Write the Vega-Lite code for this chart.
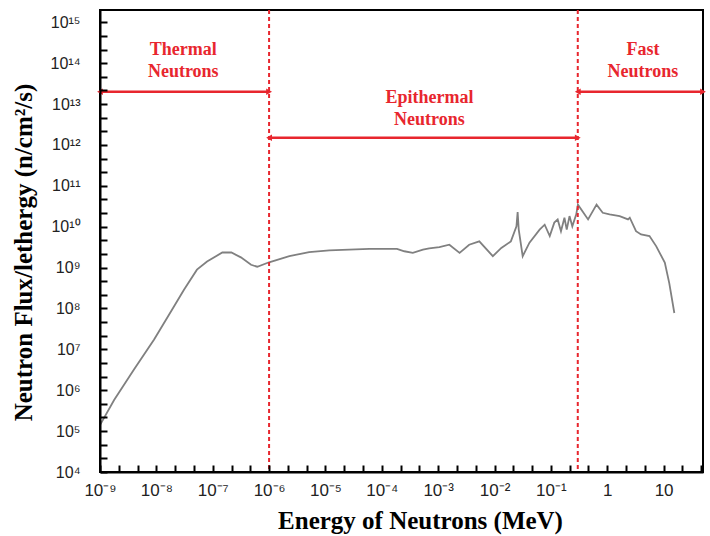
{
  "$schema": "https://vega.github.io/schema/vega-lite/v6.json",
  "width": 603,
  "height": 462,
  "autosize": "none",
  "padding": {"left": 100, "top": 10, "right": 7, "bottom": 64},
  "background": "white",
  "config": {
    "view": {"stroke": "black", "strokeWidth": 2}
  },
  "datasets": {
    "flux": [
      {"E": 1e-9, "F": 1.4e5}, {"E": 1.78e-9, "F": 5.75e5}, {"E": 3.98e-9, "F": 3.16e6},
      {"E": 9.12e-9, "F": 1.74e7}, {"E": 2.04e-8, "F": 1.1e8}, {"E": 3.09e-8, "F": 2.88e8},
      {"E": 5.25e-8, "F": 8.9e8}, {"E": 7.94e-8, "F": 1.41e9}, {"E": 1.48e-7, "F": 2.34e9},
      {"E": 2.14e-7, "F": 2.34e9}, {"E": 3.16e-7, "F": 1.78e9}, {"E": 4.79e-7, "F": 1.17e9},
      {"E": 6.17e-7, "F": 1.05e9}, {"E": 1e-6, "F": 1.35e9}, {"E": 2.29e-6, "F": 1.9e9},
      {"E": 5.13e-6, "F": 2.4e9}, {"E": 1.17e-5, "F": 2.63e9}, {"E": 2.63e-5, "F": 2.75e9},
      {"E": 6.03e-5, "F": 2.88e9}, {"E": 1.86e-4, "F": 2.88e9}, {"E": 2.51e-4, "F": 2.51e9},
      {"E": 3.55e-4, "F": 2.29e9}, {"E": 5.37e-4, "F": 2.75e9}, {"E": 6.92e-4, "F": 2.95e9},
      {"E": 1.05e-3, "F": 3.16e9}, {"E": 1.58e-3, "F": 3.63e9}, {"E": 2.4e-3, "F": 2.29e9},
      {"E": 3.55e-3, "F": 3.63e9}, {"E": 5.37e-3, "F": 4.37e9}, {"E": 9.33e-3, "F": 1.9e9},
      {"E": 1.32e-2, "F": 3.02e9}, {"E": 1.95e-2, "F": 4.37e9}, {"E": 2.45e-2, "F": 1.02e10},
      {"E": 2.57e-2, "F": 2.29e10}, {"E": 2.69e-2, "F": 8.5e9}, {"E": 3.16e-2, "F": 1.9e9},
      {"E": 4.17e-2, "F": 4.07e9}, {"E": 6.31e-2, "F": 8.5e9}, {"E": 7.76e-2, "F": 1.12e10},
      {"E": 9.55e-2, "F": 5.89e9}, {"E": 0.115, "F": 1.26e10}, {"E": 0.132, "F": 1.51e10},
      {"E": 0.151, "F": 7.76e9}, {"E": 0.174, "F": 1.66e10}, {"E": 0.191, "F": 8.5e9},
      {"E": 0.214, "F": 1.82e10}, {"E": 0.24, "F": 1.02e10}, {"E": 0.282, "F": 2.0e10},
      {"E": 0.302, "F": 3.47e10}, {"E": 0.457, "F": 1.51e10}, {"E": 0.646, "F": 3.47e10},
      {"E": 0.832, "F": 2.19e10}, {"E": 1.1, "F": 2.0e10}, {"E": 1.66, "F": 1.82e10},
      {"E": 2.34, "F": 1.51e10}, {"E": 2.51, "F": 1.66e10}, {"E": 3.24, "F": 7.76e9},
      {"E": 3.98, "F": 6.46e9}, {"E": 5.62, "F": 5.89e9}, {"E": 7.41, "F": 3.31e9},
      {"E": 10.5, "F": 1.32e9}, {"E": 12.6, "F": 4.17e8}, {"E": 15.5, "F": 7.76e7}
    ],
    "bounds": [{"E": 1e-6}, {"E": 0.3}],
    "arrows": [
      {"E": 1e-9, "E2": 1e-6, "F": 2e13},
      {"E": 1e-6, "E2": 0.3, "F": 1.5e12},
      {"E": 0.3, "E2": 50, "F": 2e13}
    ],
    "heads": [
      {"E": 1e-9, "F": 2e13, "dir": "left"}, {"E": 1e-6, "F": 2e13, "dir": "right"},
      {"E": 1e-6, "F": 1.5e12, "dir": "left"}, {"E": 0.3, "F": 1.5e12, "dir": "right"},
      {"E": 0.3, "F": 2e13, "dir": "left"}, {"E": 50, "F": 2e13, "dir": "right"}
    ],
    "labels": [
      {"E": 3e-8, "F": 2.1e14, "text": "Thermal\nNeutrons"},
      {"E": 7e-4, "F": 1.4e13, "text": "Epithermal\nNeutrons"},
      {"E": 4.3, "F": 2.1e14, "text": "Fast\nNeutrons"}
    ]
  },
  "layer": [
    {
      "data": {"name": "flux"},
      "mark": {"type": "line", "color": "#808080", "strokeWidth": 1.8, "clip": true},
      "encoding": {
        "x": {
          "field": "E", "type": "quantitative",
          "scale": {"type": "log", "domain": [1e-9, 50], "nice": false},
          "axis": {
            "orient": "bottom", "domainColor": "black", "domainWidth": 2, "gridOpacity": 0,
            "tickColor": "black", "tickWidth": 2, "tickSize": -7, "zindex": 1,
            "title": "Energy of Neutrons (MeV)",
            "titleFont": "Liberation Serif", "titleFontSize": 25, "titleFontWeight": "bold", "titleColor": "black",
            "titleX": 320, "titleY": 48, "titleBaseline": "middle", "titleAlign": "center",
            "values": [1e-9, 2.154e-9, 4.642e-9, 1e-8, 2.154e-8, 4.642e-8, 1e-7, 2.154e-7, 4.642e-7, 1e-6, 2.154e-6, 4.642e-6, 1e-5, 2.154e-5, 4.642e-5, 1e-4, 2.154e-4, 4.642e-4, 1e-3, 2.154e-3, 4.642e-3, 0.01, 0.02154, 0.04642, 0.1, 0.2154, 0.4642, 1, 2.154, 4.642, 10, 21.54, 46.42],
            "labelExpr": "abs(log(datum.value)/LN10 - round(log(datum.value)/LN10)) < 0.01 ? ['10⁻⁹','10⁻⁸','10⁻⁷','10⁻⁶','10⁻⁵','10⁻⁴','10⁻³','10⁻²','10⁻¹','1','10'][round(log(datum.value)/LN10) + 9] : ''",
            "labelFont": "Liberation Sans", "labelFontSize": 17, "labelColor": "#222",
            "labelPadding": 17, "labelFlush": false
          }
        },
        "y": {
          "field": "F", "type": "quantitative",
          "scale": {"type": "log", "domain": [1e4, 2e15], "nice": false},
          "axis": {
            "orient": "left", "domainColor": "black", "domainWidth": 2, "gridOpacity": 0,
            "tickColor": "black", "tickWidth": 2, "tickSize": -7, "zindex": 1,
            "title": "Neutron Flux/lethergy (n/cm²/s)",
            "titleFont": "Liberation Serif", "titleFontSize": 25, "titleFontWeight": "bold", "titleColor": "black",
            "titleX": -77, "titleY": 242, "titleBaseline": "middle", "titleAlign": "center", "titleAngle": -90,
            "values": [1e4, 2.154e4, 4.642e4, 1e5, 2.154e5, 4.642e5, 1e6, 2.154e6, 4.642e6, 1e7, 2.154e7, 4.642e7, 1e8, 2.154e8, 4.642e8, 1e9, 2.154e9, 4.642e9, 1e10, 2.154e10, 4.642e10, 1e11, 2.154e11, 4.642e11, 1e12, 2.154e12, 4.642e12, 1e13, 2.154e13, 4.642e13, 1e14, 2.154e14, 4.642e14, 1e15],
            "labelExpr": "abs(log(datum.value)/LN10 - round(log(datum.value)/LN10)) < 0.01 ? ['10⁴','10⁵','10⁶','10⁷','10⁸','10⁹','10¹⁰','10¹¹','10¹²','10¹³','10¹⁴','10¹⁵'][round(log(datum.value)/LN10) - 4] : ''",
            "labelFont": "Liberation Sans", "labelFontSize": 16, "labelColor": "#222",
            "labelPadding": 27, "labelFlush": false
          }
        }
      }
    },
    {
      "data": {"name": "bounds"},
      "mark": {"type": "rule", "color": "#e8262e", "strokeWidth": 2, "strokeDash": [4, 3]},
      "encoding": {
        "x": {"field": "E", "type": "quantitative", "scale": {"type": "log", "domain": [1e-9, 50], "nice": false}}
      }
    },
    {
      "data": {"name": "arrows"},
      "mark": {"type": "rule", "color": "#e8262e", "strokeWidth": 2.5},
      "encoding": {
        "x": {"field": "E", "type": "quantitative", "scale": {"type": "log", "domain": [1e-9, 50], "nice": false}},
        "x2": {"field": "E2"},
        "y": {"field": "F", "type": "quantitative", "scale": {"type": "log", "domain": [1e4, 2e15], "nice": false}}
      }
    },
    {
      "data": {"name": "heads"},
      "mark": {"type": "point", "filled": true, "color": "#e8262e", "size": 45, "opacity": 1},
      "encoding": {
        "x": {"field": "E", "type": "quantitative", "scale": {"type": "log", "domain": [1e-9, 50], "nice": false}},
        "y": {"field": "F", "type": "quantitative", "scale": {"type": "log", "domain": [1e4, 2e15], "nice": false}},
        "shape": {"field": "dir", "type": "nominal", "scale": {"domain": ["left", "right"], "range": ["triangle-left", "triangle-right"]}, "legend": null}
      }
    },
    {
      "data": {"name": "labels"},
      "mark": {"type": "text", "color": "#e8262e", "font": "Liberation Serif", "fontWeight": "bold", "fontSize": 18, "lineBreak": "\n", "lineHeight": 22, "align": "center", "baseline": "middle"},
      "encoding": {
        "x": {"field": "E", "type": "quantitative", "scale": {"type": "log", "domain": [1e-9, 50], "nice": false}},
        "y": {"field": "F", "type": "quantitative", "scale": {"type": "log", "domain": [1e4, 2e15], "nice": false}},
        "text": {"field": "text", "type": "nominal"}
      }
    }
  ]
}
